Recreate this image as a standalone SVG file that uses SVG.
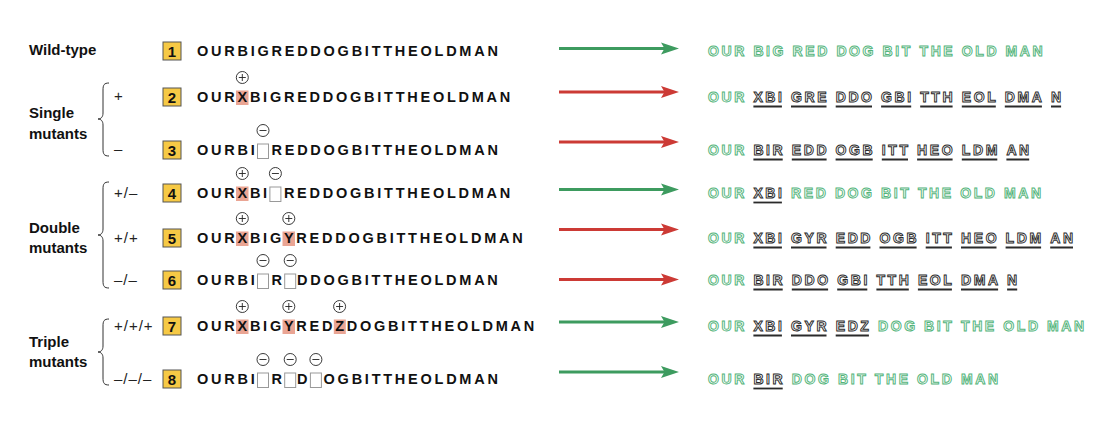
<svg xmlns="http://www.w3.org/2000/svg" xmlns:xlink="http://www.w3.org/1999/xlink" width="1100" height="422" viewBox="0 0 1100 422">
<style>
.lbl{font-family:"Liberation Sans",Arial,sans-serif;font-weight:bold;font-size:15px;fill:#111}
.sgn{font-family:"Liberation Sans",Arial,sans-serif;font-size:15px;letter-spacing:1px;fill:#222}
.seq{font-family:"Liberation Sans",Arial,sans-serif;font-weight:bold;font-size:14.5px;letter-spacing:2.75px;fill:#111;font-kerning:none}
.num{font-family:"Liberation Sans",Arial,sans-serif;font-weight:bold;font-size:15px;fill:#111;text-anchor:middle}
.nbox{fill:#f6c945;stroke:#555;stroke-width:1}
.hl{fill:#eaa594}
.del{fill:#fff;stroke:#999;stroke-width:1}
.brace{fill:none;stroke:#333;stroke-width:1}
.out{font-family:"Liberation Sans",Arial,sans-serif;font-weight:bold;font-size:14px;letter-spacing:2.6px;fill:#fff;stroke-width:0.95;font-kerning:none}
.g{stroke:#52b47a}
.k{stroke:#2a2a2a}
.ul{stroke:#2a2a2a;stroke-width:1.8}
.ag{stroke:#3d9b5f;stroke-width:3;fill:none}
.ar{stroke:#cc3a35;stroke-width:3;fill:none}
</style>
<defs>
<marker id="hg" markerUnits="userSpaceOnUse" markerWidth="20" markerHeight="14" refX="7" refY="6.5" orient="auto"><path d="M0,0.5 L18,6.5 L0,12.5 L3.5,6.5 z" fill="#3d9b5f"/></marker>
<marker id="hr" markerUnits="userSpaceOnUse" markerWidth="20" markerHeight="14" refX="7" refY="6.5" orient="auto"><path d="M0,0.5 L18,6.5 L0,12.5 L3.5,6.5 z" fill="#cc3a35"/></marker>
<g id="plus"><circle r="6" fill="#fff" stroke="#222" stroke-width="0.9"/><path d="M-3.5,0H3.5M0,-3.5V3.5" stroke="#222" stroke-width="0.9"/></g>
<g id="minus"><circle r="6" fill="#fff" stroke="#222" stroke-width="0.9"/><path d="M-3.5,0H3.5" stroke="#222" stroke-width="0.9"/></g>
</defs>
<rect width="1100" height="422" fill="#fff"/>

<g id="labels">
<text class="lbl" x="29" y="55">Wild-type</text>
<text class="lbl" x="29" y="118">Single</text>
<text class="lbl" x="29" y="139">mutants</text>
<path class="brace" d="M109,83 C104,83 103,85 103,90 L103,113 C103,117 101,119 98,119 C101,119 103,121 103,125 L103,149 C103,154 104,156 109,156"/>
<text class="sgn" x="114" y="101">+</text>
<text class="sgn" x="114" y="154">–</text>
<text class="lbl" x="29" y="233">Double</text>
<text class="lbl" x="29" y="253">mutants</text>
<path class="brace" d="M109,182 C104,182 103,184 103,189 L103,229 C103,233 101,235 98,235 C101,235 103,237 103,241 L103,281 C103,286 104,288 109,288"/>
<text class="sgn" x="114" y="198">+/–</text>
<text class="sgn" x="114" y="243">+/+</text>
<text class="sgn" x="114" y="285">–/–</text>
<text class="lbl" x="29" y="347">Triple</text>
<text class="lbl" x="29" y="367">mutants</text>
<path class="brace" d="M109,319 C104,319 103,321 103,326 L103,346 C103,350 101,352 98,352 C101,352 103,354 103,358 L103,378 C103,383 104,385 109,385"/>
<text class="sgn" x="114" y="331">+/+/+</text>
<text class="sgn" x="114" y="384">–/–/–</text>
</g>

<g id="row1">
<rect class="nbox" x="163" y="42" width="18" height="18"/><text class="num" x="172" y="56.5">1</text>
<text class="seq" x="197" y="56">OURBIGREDDOGBITTHEOLDMAN</text>
<text class="out" y="56"><tspan class="g" x="708">OUR</tspan><tspan class="g" x="753.4">BIG</tspan><tspan class="g" x="792.6">RED</tspan><tspan class="g" x="836.4">DOG</tspan><tspan class="g" x="882.6">BIT</tspan><tspan class="g" x="919.5">THE</tspan><tspan class="g" x="961.8">OLD</tspan><tspan class="g" x="1005.6">MAN</tspan></text>
</g>

<g id="row2">
<rect class="nbox" x="163" y="88" width="18" height="18"/><text class="num" x="172" y="102.5">2</text>
<rect class="hl" x="236" y="90.5" width="12.5" height="14.5"/>
<use xlink:href="#plus" x="242.3" y="77.5"/>
<text class="seq" y="102"><tspan x="197">OUR</tspan><tspan x="237.5">X</tspan><tspan x="249.9">BIGREDDOGBITTHEOLDMAN</tspan></text>
<text class="out" y="102"><tspan class="g" x="708">OUR</tspan><tspan class="k" x="753.4">XBI</tspan><tspan class="k" x="791">GRE</tspan><tspan class="k" x="835.7">DDO</tspan><tspan class="k" x="881.1">GBI</tspan><tspan class="k" x="920.2">TTH</tspan><tspan class="k" x="961.8">EOL</tspan><tspan class="k" x="1004.8">DMA</tspan><tspan class="k" x="1051">N</tspan></text>
<path class="ul" d="M753.4,106.5H781.9M791,106.5H826.5M835.7,106.5H872M881.1,106.5H911.2M920.2,106.5H952.6M961.8,106.5H995.8M1004.8,106.5H1041.9M1051,106.5H1061.1"/>
</g>

<g id="row3">
<rect class="nbox" x="163" y="141" width="18" height="18"/><text class="num" x="172" y="155.5">3</text>
<rect class="del" x="257.5" y="144" width="11" height="14.5"/>
<use xlink:href="#minus" x="263" y="130.5"/>
<text class="seq" y="155"><tspan x="197">OURBI</tspan><tspan x="271.5">REDDOGBITTHEOLDMAN</tspan></text>
<text class="out" y="155"><tspan class="g" x="708">OUR</tspan><tspan class="k" x="753.4">BIR</tspan><tspan class="k" x="791.8">EDD</tspan><tspan class="k" x="835.6">OGB</tspan><tspan class="k" x="881.8">ITT</tspan><tspan class="k" x="917.1">HEO</tspan><tspan class="k" x="961.8">LDM</tspan><tspan class="k" x="1006.4">AN</tspan></text>
<path class="ul" d="M753.4,159.5H782.7M791.8,159.5H826.6M835.6,159.5H872.7M881.8,159.5H908M917.1,159.5H952.6M961.8,159.5H997.3M1006.4,159.5H1029.2"/>
</g>

<g id="row4">
<rect class="nbox" x="163" y="184" width="18" height="18"/><text class="num" x="172" y="198.5">4</text>
<rect class="hl" x="236" y="186.5" width="12.5" height="14.5"/>
<rect class="del" x="269.9" y="187" width="11" height="14.5"/>
<use xlink:href="#plus" x="242.3" y="173.5"/>
<use xlink:href="#minus" x="275.4" y="173.5"/>
<text class="seq" y="198"><tspan x="197">OUR</tspan><tspan x="237.5">X</tspan><tspan x="249.9">BI</tspan><tspan x="283.9">REDDOGBITTHEOLDMAN</tspan></text>
<text class="out" y="198"><tspan class="g" x="708">OUR</tspan><tspan class="k" x="753.4">XBI</tspan><tspan class="g" x="791">RED</tspan><tspan class="g" x="834.9">DOG</tspan><tspan class="g" x="881.1">BIT</tspan><tspan class="g" x="917.9">THE</tspan><tspan class="g" x="960.2">OLD</tspan><tspan class="g" x="1004">MAN</tspan></text>
<path class="ul" d="M753.4,202.5H781.9"/>
</g>

<g id="row5">
<rect class="nbox" x="163" y="229" width="18" height="18"/><text class="num" x="172" y="243.5">5</text>
<rect class="hl" x="236" y="231.5" width="12.5" height="14.5"/>
<rect class="hl" x="282.5" y="231.5" width="12.5" height="14.5"/>
<use xlink:href="#plus" x="242.3" y="218.5"/>
<use xlink:href="#plus" x="288.8" y="218.5"/>
<text class="seq" y="243"><tspan x="197">OUR</tspan><tspan x="237.5">X</tspan><tspan x="249.9">BIG</tspan><tspan x="283.9">Y</tspan><tspan x="296.3">REDDOGBITTHEOLDMAN</tspan></text>
<text class="out" y="243"><tspan class="g" x="708">OUR</tspan><tspan class="k" x="753.4">XBI</tspan><tspan class="k" x="791">GYR</tspan><tspan class="k" x="835.7">EDD</tspan><tspan class="k" x="879.5">OGB</tspan><tspan class="k" x="925.7">ITT</tspan><tspan class="k" x="961">HEO</tspan><tspan class="k" x="1005.6">LDM</tspan><tspan class="k" x="1050.2">AN</tspan></text>
<path class="ul" d="M753.4,247.5H781.9M791,247.5H826.5M835.7,247.5H870.4M879.5,247.5H916.6M925.7,247.5H951.9M961,247.5H996.5M1005.6,247.5H1041.1M1050.2,247.5H1073"/>
</g>

<g id="row6">
<rect class="nbox" x="163" y="271" width="18" height="18"/><text class="num" x="172" y="285.5">6</text>
<rect class="del" x="257.5" y="274" width="11" height="14.5"/>
<rect class="del" x="284.7" y="274" width="11" height="14.5"/>
<use xlink:href="#minus" x="263" y="260.5"/>
<use xlink:href="#minus" x="290.2" y="260.5"/>
<text class="seq" y="285"><tspan x="197">OURBI</tspan><tspan x="271.5">R</tspan><tspan x="297.1">DDOGBITTHEOLDMAN</tspan></text>
<text class="out" y="285"><tspan class="g" x="708">OUR</tspan><tspan class="k" x="753.4">BIR</tspan><tspan class="k" x="791.8">DDO</tspan><tspan class="k" x="837.2">GBI</tspan><tspan class="k" x="876.4">TTH</tspan><tspan class="k" x="917.9">EOL</tspan><tspan class="k" x="961">DMA</tspan><tspan class="k" x="1007.1">N</tspan></text>
<path class="ul" d="M753.4,289.5H782.7M791.8,289.5H828.1M837.2,289.5H867.3M876.4,289.5H908.8M917.9,289.5H951.9M961,289.5H998.1M1007.1,289.5H1017.2"/>
</g>

<g id="row7">
<rect class="nbox" x="163" y="317" width="18" height="18"/><text class="num" x="172" y="331.5">7</text>
<rect class="hl" x="236" y="319.5" width="12.5" height="14.5"/>
<rect class="hl" x="282.5" y="319.5" width="12.5" height="14.5"/>
<rect class="hl" x="333.8" y="319.5" width="12" height="14.5"/>
<use xlink:href="#plus" x="242.3" y="306.5"/>
<use xlink:href="#plus" x="288.8" y="306.5"/>
<use xlink:href="#plus" x="339.6" y="306.5"/>
<text class="seq" y="331"><tspan x="197">OUR</tspan><tspan x="237.5">X</tspan><tspan x="249.9">BIG</tspan><tspan x="283.9">Y</tspan><tspan x="296.3">RED</tspan><tspan x="335.2">Z</tspan><tspan x="346.8">DOGBITTHEOLDMAN</tspan></text>
<text class="out" y="331"><tspan class="g" x="708">OUR</tspan><tspan class="k" x="753.4">XBI</tspan><tspan class="k" x="791">GYR</tspan><tspan class="k" x="835.7">EDZ</tspan><tspan class="g" x="878">DOG</tspan><tspan class="g" x="924.1">BIT</tspan><tspan class="g" x="961">THE</tspan><tspan class="g" x="1003.3">OLD</tspan><tspan class="g" x="1047.1">MAN</tspan></text>
<path class="ul" d="M753.4,335.5H781.9M791,335.5H826.5M835.7,335.5H868.9"/>
</g>

<g id="row8">
<rect class="nbox" x="163" y="370" width="18" height="18"/><text class="num" x="172" y="384.5">8</text>
<rect class="del" x="257.5" y="373" width="11" height="14.5"/>
<rect class="del" x="284.7" y="373" width="11" height="14.5"/>
<rect class="del" x="310.4" y="373" width="11" height="14.5"/>
<use xlink:href="#minus" x="263" y="359.5"/>
<use xlink:href="#minus" x="290.2" y="359.5"/>
<use xlink:href="#minus" x="315.9" y="359.5"/>
<text class="seq" y="384"><tspan x="197">OURBI</tspan><tspan x="271.5">R</tspan><tspan x="297.1">D</tspan><tspan x="323.6">OGBITTHEOLDMAN</tspan></text>
<text class="out" y="384"><tspan class="g" x="708">OUR</tspan><tspan class="k" x="753.4">BIR</tspan><tspan class="g" x="791.8">DOG</tspan><tspan class="g" x="838">BIT</tspan><tspan class="g" x="874.8">THE</tspan><tspan class="g" x="917.1">OLD</tspan><tspan class="g" x="961">MAN</tspan></text>
<path class="ul" d="M753.4,388.5H782.7"/>
</g>

<g id="connectors">
<line class="ag" x1="559" y1="48.5" x2="668" y2="48.5" marker-end="url(#hg)"/>
<line class="ar" x1="559" y1="92" x2="668" y2="92" marker-end="url(#hr)"/>
<line class="ar" x1="559" y1="142" x2="668" y2="142" marker-end="url(#hr)"/>
<line class="ag" x1="559" y1="189.5" x2="668" y2="189.5" marker-end="url(#hg)"/>
<line class="ar" x1="559" y1="229.5" x2="668" y2="229.5" marker-end="url(#hr)"/>
<line class="ar" x1="559" y1="279.5" x2="668" y2="279.5" marker-end="url(#hr)"/>
<line class="ag" x1="559" y1="322" x2="668" y2="322" marker-end="url(#hg)"/>
<line class="ag" x1="559" y1="372" x2="668" y2="372" marker-end="url(#hg)"/>
</g>
</svg>
